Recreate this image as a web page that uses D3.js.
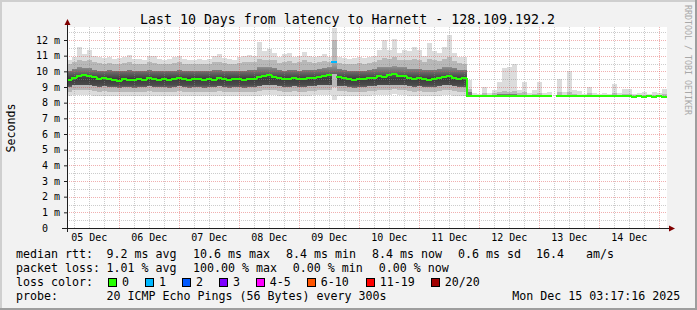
<!DOCTYPE html>
<html><head><meta charset="utf-8">
<script src="https://cdn.jsdelivr.net/npm/d3@7"></script>
<style>
body{margin:0;background:#f2f2f2}
svg{display:block}
text{font-family:"DejaVu Sans Mono",monospace;fill:#000}
</style>
</head><body>
<svg id="c" width="697" height="310"></svg>
<script>
// ---------------- DATA ----------------
const title = "Last 10 Days from latency to Harnett - 128.109.192.2";
const startTime = "2025-12-05T03:17:16Z";
const endTime = "2025-12-15T03:17:16Z";
const stepHours = 2; // one smoke column = 2 hours
const yTop = 12.83;  // ms, top of value axis

const yTickValues = [0,1,2,3,4,5,6,7,8,9,10,11,12];
const yTickLabels = ["0  ","1 m","2 m","3 m","4 m","5 m","6 m","7 m","8 m","9 m","10 m","11 m","12 m"];
const dayLabels = ["05 Dec","06 Dec","07 Dec","08 Dec","09 Dec","10 Dec","11 Dec","12 Dec","13 Dec","14 Dec"];

// median rtt (ms) per 2h column
const median = [
9.45,9.6,9.72,9.76,9.72,9.62,9.5,9.55,9.52,9.45,
9.38,9.5,9.45,9.42,9.5,9.46,9.55,9.5,9.45,9.5,
9.42,9.48,9.55,9.5,9.45,9.52,9.48,9.44,9.5,9.45,
9.55,9.5,9.45,9.5,9.48,9.45,9.48,9.52,9.62,9.7,
9.78,9.65,9.55,9.48,9.52,9.55,9.5,9.48,9.55,9.6,
9.62,9.68,9.78,10.6,9.62,9.6,9.5,9.45,9.5,9.48,
9.55,9.6,9.68,9.62,9.75,9.8,9.72,9.68,9.55,9.5,
9.55,9.5,9.45,9.5,9.55,9.65,9.68,9.6,9.5,9.55,
8.4,8.4,8.4,8.4,8.4,8.4,8.4,8.4,8.4,8.4,
8.4,8.4,8.4,8.4,8.4,8.4,8.4,null,8.4,8.4,
8.4,8.4,8.4,8.4,8.4,8.4,8.4,8.4,8.4,8.4,
8.4,8.4,8.4,8.36,8.4,8.36,8.4,8.36,8.4,8.36];

// lost pings out of 20 per column
const loss = [
0,0,0,0,0,0,0,0,0,0, 0,0,0,0,0,0,0,0,0,0,
0,0,0,0,0,0,0,0,0,0, 0,0,0,0,0,0,0,0,0,0,
0,0,0,0,0,0,0,0,0,0, 0,0,0,1,0,0,0,0,0,0,
0,0,0,0,0,0,0,0,0,0, 0,0,0,0,0,0,0,0,0,0,
0,0,0,0,0,0,0,0,0,0, 0,0,0,0,0,0,0,20,0,0,
0,0,0,0,0,0,0,0,0,0, 0,0,0,0,0,0,0,0,0,0];

const pingMax = [
10.7,10.9,11.55,11.1,11.35,11.0,10.9,10.85,10.9,10.8,
10.85,10.9,11.05,10.8,10.8,10.75,11.0,10.95,10.8,10.75,
10.8,10.9,11.0,10.8,10.7,10.75,10.8,10.7,10.8,11.0,
11.1,10.85,10.8,10.75,10.9,11.0,11.05,11.0,11.9,11.3,
11.4,11.2,10.9,11.1,11.2,10.9,11.0,11.25,11.0,10.9,
11.0,11.1,10.9,12.75,10.9,10.85,10.8,10.85,10.9,10.85,
10.9,11.0,11.35,12.0,11.35,12.05,11.2,11.35,11.3,11.55,
11.35,11.0,11.8,11.3,11.2,11.55,12.3,11.2,10.9,10.9,
9.45,8.6,8.55,9.0,8.6,8.8,9.3,10.2,10.3,10.5,
8.8,9.3,8.6,8.8,9.3,8.6,8.7,null,9.5,8.7,
10.0,8.8,8.75,8.55,9.0,8.6,8.55,8.6,8.55,9.2,
8.6,8.9,8.85,8.55,8.6,8.7,8.55,8.7,8.6,8.9];

const ping90 = [
10.5,10.6,10.75,10.65,10.7,10.6,10.55,10.5,10.55,10.5,
10.5,10.55,10.6,10.5,10.45,10.5,10.6,10.55,10.5,10.45,
10.5,10.55,10.6,10.5,10.45,10.5,10.5,10.45,10.5,10.6,
10.6,10.55,10.5,10.45,10.55,10.6,10.6,10.6,10.8,10.7,
10.75,10.7,10.55,10.6,10.65,10.55,10.6,10.7,10.6,10.55,
10.6,10.65,10.6,12.0,10.55,10.5,10.5,10.5,10.55,10.5,
10.55,10.6,10.75,10.85,10.8,10.9,10.7,10.75,10.7,10.8,
10.7,10.6,10.8,10.7,10.65,10.8,10.9,10.65,10.55,10.5,
8.9,8.5,8.5,8.6,8.5,8.6,8.7,8.75,8.7,8.75,
8.6,8.65,8.5,8.55,8.6,8.5,8.5,null,8.7,8.5,
8.7,8.55,8.5,8.5,8.6,8.5,8.5,8.5,8.5,8.6,
8.5,8.55,8.55,8.5,8.5,8.5,8.5,8.5,8.5,8.55];

const ping75 = [
10.05,10.15,10.25,10.2,10.2,10.1,10.05,10.05,10.1,10.0,
10.0,10.05,10.1,10.0,10.0,10.0,10.1,10.05,10.0,10.0,
10.0,10.05,10.1,10.05,10.0,10.05,10.0,10.0,10.05,10.1,
10.1,10.05,10.0,10.0,10.05,10.05,10.1,10.1,10.25,10.25,
10.3,10.2,10.1,10.05,10.1,10.1,10.05,10.1,10.1,10.1,
10.15,10.2,10.25,10.6,10.15,10.1,10.05,10.0,10.05,10.05,
10.1,10.15,10.25,10.3,10.3,10.35,10.25,10.25,10.15,10.15,
10.15,10.1,10.1,10.1,10.15,10.25,10.3,10.2,10.1,10.1,
8.7,8.45,8.45,8.5,8.45,8.5,8.55,8.55,8.55,8.55,
8.5,8.5,8.45,8.45,8.5,8.45,8.45,null,8.5,8.45,
8.5,8.45,8.45,8.45,8.45,8.45,8.45,8.45,8.45,8.5,
8.45,8.45,8.45,8.45,8.45,8.45,8.45,8.45,8.45,8.45];

const ping25 = [
9.0,9.1,9.15,9.15,9.1,9.05,9.0,9.05,9.0,9.0,
8.95,9.0,9.0,8.95,9.0,9.0,9.05,9.0,9.0,9.0,
8.95,9.0,9.05,9.0,8.95,9.0,9.0,8.95,9.0,9.0,
9.05,9.0,8.95,9.0,9.0,8.95,9.0,9.0,9.05,9.1,
9.15,9.1,9.05,9.0,9.0,9.05,9.0,9.0,9.05,9.05,
9.1,9.1,9.15,9.8,9.05,9.05,9.0,8.95,9.0,9.0,
9.05,9.05,9.1,9.1,9.15,9.15,9.1,9.1,9.05,9.0,
9.05,9.0,9.0,9.0,9.05,9.1,9.1,9.05,9.0,9.0,
8.45,8.38,8.38,8.38,8.38,8.38,8.38,8.38,8.38,8.38,
8.38,8.38,8.38,8.38,8.38,8.38,8.38,null,8.38,8.38,
8.38,8.38,8.38,8.38,8.38,8.38,8.38,8.38,8.38,8.38,
8.38,8.38,8.38,8.38,8.38,8.38,8.38,8.38,8.38,8.38];

const ping10 = [
8.7,8.8,8.8,8.8,8.8,8.75,8.7,8.75,8.7,8.7,
8.65,8.7,8.7,8.7,8.7,8.7,8.75,8.7,8.7,8.7,
8.65,8.7,8.75,8.7,8.65,8.7,8.7,8.65,8.7,8.7,
8.75,8.7,8.65,8.7,8.7,8.65,8.7,8.7,8.75,8.8,
8.8,8.8,8.75,8.7,8.7,8.75,8.7,8.7,8.75,8.75,
8.8,8.8,8.8,9.0,8.75,8.75,8.7,8.65,8.7,8.7,
8.75,8.75,8.8,8.8,8.8,8.85,8.8,8.8,8.75,8.7,
8.75,8.7,8.7,8.7,8.75,8.8,8.8,8.75,8.7,8.7,
8.4,8.37,8.37,8.37,8.37,8.37,8.37,8.37,8.37,8.37,
8.37,8.37,8.37,8.37,8.37,8.37,8.37,null,8.37,8.37,
8.37,8.37,8.37,8.37,8.37,8.37,8.37,8.37,8.37,8.37,
8.37,8.37,8.37,8.37,8.37,8.37,8.37,8.37,8.37,8.37];

const pingMin = [
8.45,8.5,8.5,8.5,8.5,8.45,8.45,8.45,8.4,8.45,
8.4,8.45,8.45,8.45,8.4,8.45,8.45,8.45,8.4,8.45,
8.4,8.45,8.45,8.45,8.4,8.45,8.4,8.4,8.45,8.45,
8.45,8.45,8.4,8.45,8.4,8.4,8.45,8.45,8.45,8.5,
8.5,8.5,8.45,8.45,8.45,8.45,8.4,8.45,8.45,8.5,
8.5,8.5,8.5,8.2,8.45,8.45,8.45,8.4,8.45,8.45,
8.45,8.5,8.5,8.5,8.5,8.55,8.5,8.5,8.45,8.45,
8.45,8.45,8.4,8.45,8.45,8.5,8.5,8.45,8.45,8.45,
8.36,8.35,8.35,8.35,8.35,8.35,8.35,8.35,8.35,8.35,
8.35,8.35,8.35,8.35,8.35,8.35,8.35,null,8.35,8.35,
8.35,8.35,8.35,8.35,8.35,8.35,8.35,8.35,8.35,8.35,
8.35,8.35,8.35,8.35,8.35,8.35,8.35,8.35,8.35,8.35];

const lossLabels = ["0","1","2","3","4-5","6-10","11-19","20/20"];
const lossColors = ["#26ff00","#00b8ff","#0059ff","#7e00ff","#ff00ff","#ff5500","#ff0000","#a10000"];
const lossThresholds = [1,2,3,4,6,11,20];

const legendRtt = ["median rtt:","9.2 ms avg","10.6 ms max","8.4 ms min","8.4 ms now","0.6 ms sd","16.4","am/s"];
const legendLoss = ["packet loss:","1.01 % avg","100.00 % max","0.00 % min","0.00 % now"];
const legendColorTitle = "loss color:";
const legendProbe = ["probe:","20 ICMP Echo Pings (56 Bytes) every 300s"];
const stamp = "Mon Dec 15 03:17:16 2025";
const watermark = "RRDTOOL / TOBI OETIKER";
const yTitle = "Seconds";

// ---------------- LAYOUT ----------------
const W = 697, H = 310;
const L = 67, R = 667, T = 27, B = 228;
const rttX = [16,106.6,193,286,372,458,536,586];
const lossX = [16,106.6,193,292.7,378.7];
const swatchX = [108,145,182,219,255.7,306.7,365.7,430.7];

const svg = d3.select("#c");
const t0 = new Date(startTime), t1 = new Date(endTime);
const x = d3.scaleUtc().domain([t0, t1]).range([L, R]);
const y = d3.scaleLinear().domain([0, yTop]).range([B, T]);
const lossColor = d3.scaleThreshold().domain(lossThresholds).range(lossColors);
const colStart = i => d3.utcHour.offset(t0, i * stepHours);
const cx0 = i => x(colStart(i));
const cx1 = i => Math.min(R, x(colStart(i + 1)));

// background + frame
svg.append("rect").attr("width", W).attr("height", H).attr("fill", "#f2f2f2");
svg.append("path").attr("d", `M0,0H${W}V2H2V${H}H0Z`).attr("fill", "#cfcfcf");
svg.append("path").attr("d", `M${W},${H}H0V${H-2}H${W-2}V0H${W}Z`).attr("fill", "#9e9e9e");
svg.append("rect").attr("x", L).attr("y", T).attr("width", R - L).attr("height", B - T).attr("fill", "#fff");

// core gradient
const defs = svg.append("defs");
const grad = defs.append("linearGradient").attr("id", "core").attr("gradientUnits", "userSpaceOnUse")
  .attr("x1", 0).attr("x2", 0).attr("y1", y(10.45)).attr("y2", y(8.9));
[[0, "#a2a2a2"], [0.3, "#6e6e6e"], [0.6, "#3c3c3c"], [0.85, "#4a4a4a"], [1, "#7a7a7a"]]
  .forEach(([o, c]) => grad.append("stop").attr("offset", o).attr("stop-color", c));

// smoke
const smoke = svg.append("g").attr("shape-rendering", "crispEdges");
const bands = [[pingMin, pingMax, "#dcdcdc"], [ping10, ping90, "#b8b8b8"], [ping25, ping75, "url(#core)"]];
const idx = d3.range(median.length);
bands.forEach(([lo, hi, fill]) => {
  smoke.selectAll(null).data(idx.filter(i => lo[i] != null && hi[i] != null)).join("rect")
    .attr("x", i => cx0(i)).attr("width", i => cx1(i) - cx0(i))
    .attr("y", i => y(hi[i])).attr("height", i => y(lo[i]) - y(hi[i]))
    .attr("fill", fill);
});

// grid
const grid = svg.append("g").attr("shape-rendering", "crispEdges").attr("stroke-dasharray", "1,1");
const minorY = d3.range(0.5, yTop, 0.5).filter(v => v % 1 !== 0);
const majorY = d3.range(1, yTop, 1);
grid.selectAll(null).data(minorY).join("line")
  .attr("x1", L).attr("x2", R).attr("y1", d => Math.round(y(d)) + 0.5).attr("y2", d => Math.round(y(d)) + 0.5)
  .attr("stroke", "rgba(143,143,143,0.45)");
const sixH = d3.utcHour.every(6).range(t0, t1).filter(d => d.getUTCHours() !== 0);
grid.selectAll(null).data(sixH).join("line")
  .attr("y1", T).attr("y2", B).attr("x1", d => Math.round(x(d)) + 0.5).attr("x2", d => Math.round(x(d)) + 0.5)
  .attr("stroke", "rgba(143,143,143,0.45)");
grid.selectAll(null).data(majorY).join("line")
  .attr("x1", L).attr("x2", R).attr("y1", d => Math.round(y(d)) + 0.5).attr("y2", d => Math.round(y(d)) + 0.5)
  .attr("stroke", "rgba(222,79,79,0.45)");
grid.selectAll(null).data(d3.utcDay.range(t0, t1)).join("line")
  .attr("y1", T).attr("y2", B).attr("x1", d => Math.round(x(d)) + 0.5).attr("x2", d => Math.round(x(d)) + 0.5)
  .attr("stroke", "rgba(222,79,79,0.45)");

// median line coloured by loss
const med = svg.append("g").attr("shape-rendering", "crispEdges").attr("stroke-width", 2).attr("fill", "none");
idx.forEach(i => {
  if (median[i] == null) return;
  const c = lossColor(loss[i]);
  const yy = y(median[i]);
  if (i > 0 && median[i - 1] != null && lossColor(loss[i - 1]) === c) {
    med.append("line").attr("x1", cx0(i)).attr("x2", cx0(i)).attr("y1", y(median[i - 1])).attr("y2", yy).attr("stroke", c);
  }
  med.append("line").attr("x1", cx0(i) - (i > 0 ? 1 : 0)).attr("x2", cx1(i)).attr("y1", yy).attr("y2", yy).attr("stroke", c);
});

// axes
const yAxis = d3.axisLeft(y).tickValues(yTickValues).tickFormat((d, i) => yTickLabels[i]).tickSize(3).tickPadding(4);
const gy = svg.append("g").attr("transform", `translate(${L},0)`).call(yAxis);
gy.select(".domain").remove();
gy.selectAll("line").attr("stroke", "#1f1f1f");
gy.selectAll("text").attr("font-family", "DejaVu Sans Mono").attr("font-size", 10).attr("fill", "#000").style("white-space", "pre");
gy.attr("font-family", null).attr("font-size", null);

const noons = d3.utcDay.range(d3.utcDay.floor(t0), t1).map(d => d3.utcHour.offset(d, 12)).filter(d => d >= t0 && d <= t1);
const xAxis = d3.axisBottom(x).tickValues(noons).tickFormat((d, i) => dayLabels[i]).tickSize(0).tickPadding(5.5);
const gx = svg.append("g").attr("transform", `translate(0,${B})`).call(xAxis);
gx.select(".domain").remove();
gx.selectAll("text").attr("font-family", "DejaVu Sans Mono").attr("font-size", 10).attr("fill", "#000");

// axis lines + arrows
svg.append("line").attr("x1", L - 5).attr("x2", R + 3).attr("y1", B + 0.5).attr("y2", B + 0.5).attr("stroke", "#1f1f1f");
svg.append("line").attr("x1", L + 0.5).attr("x2", L + 0.5).attr("y1", B + 4).attr("y2", T - 5).attr("stroke", "#1f1f1f");
svg.append("path").attr("d", `M${L - 2.5},${T - 2}L${L + 3.5},${T - 2}L${L + 0.5},${T - 8}Z`).attr("fill", "#800000");
svg.append("path").attr("d", `M${R + 2},${B - 2.5}L${R + 2},${B + 3.5}L${R + 8},${B + 0.5}Z`).attr("fill", "#800000");

// title & labels
svg.append("text").attr("x", 347.5).attr("y", 24).attr("text-anchor", "middle").attr("font-size", 13.25).text(title);
svg.append("text").attr("transform", "translate(14.5,128) rotate(-90)").attr("text-anchor", "middle").attr("font-size", 11.6).text(yTitle);
svg.append("text").attr("transform", "translate(685,5) rotate(90)").attr("font-size", 8.3).style("fill", "#a8a8a8").text(watermark);

// legend
const lg = svg.append("g").attr("font-size", 11.63);
legendRtt.forEach((s, i) => lg.append("text").attr("x", rttX[i]).attr("y", 258).text(s));
legendLoss.forEach((s, i) => lg.append("text").attr("x", lossX[i]).attr("y", 272).text(s));
lg.append("text").attr("x", 16).attr("y", 286).text(legendColorTitle);
lossLabels.forEach((s, i) => {
  lg.append("rect").attr("x", swatchX[i] + 0.5).attr("y", 278.5).attr("width", 8).attr("height", 8)
    .attr("fill", lossColors[i]).attr("stroke", "#000").attr("shape-rendering", "crispEdges");
  lg.append("text").attr("x", swatchX[i] + 14).attr("y", 286).text(s);
});
lg.append("text").attr("x", 16).attr("y", 300).text(legendProbe[0]);
lg.append("text").attr("x", 106.6).attr("y", 300).text(legendProbe[1]);
lg.append("text").attr("x", 680.3).attr("y", 300).attr("text-anchor", "end").text(stamp);
</script>
</body></html>
